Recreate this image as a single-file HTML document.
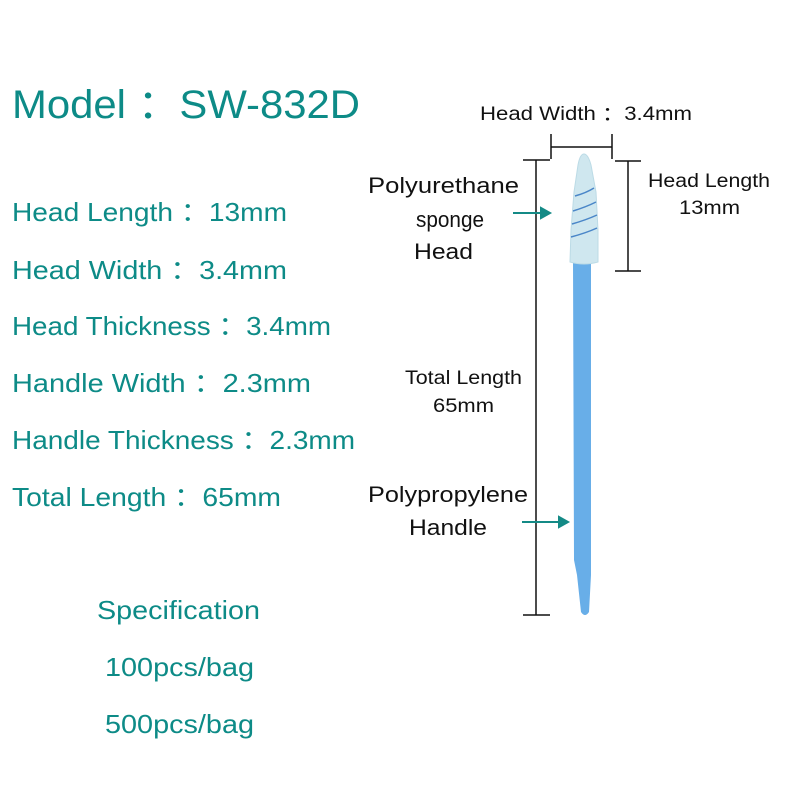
<!DOCTYPE html>
<html><head><style>body{margin:0;background:#fff}svg{display:block}</style></head><body>
<svg width="800" height="800" viewBox="0 0 800 800" xmlns="http://www.w3.org/2000/svg">
<g font-family="Liberation Sans, sans-serif" fill="#0d8b87">
<text x="12" y="118" font-size="40" textLength="348" lengthAdjust="spacingAndGlyphs">Model ：SW-832D</text>
<g font-size="26">
<text x="12" y="221" textLength="275" lengthAdjust="spacingAndGlyphs">Head Length ：13mm</text>
<text x="12" y="279" textLength="275" lengthAdjust="spacingAndGlyphs">Head Width ：3.4mm</text>
<text x="12" y="335" textLength="319" lengthAdjust="spacingAndGlyphs">Head Thickness ：3.4mm</text>
<text x="12" y="392" textLength="299" lengthAdjust="spacingAndGlyphs">Handle Width ：2.3mm</text>
<text x="12" y="449" textLength="343" lengthAdjust="spacingAndGlyphs">Handle Thickness ：2.3mm</text>
<text x="12" y="506" textLength="269" lengthAdjust="spacingAndGlyphs">Total Length ：65mm</text>
<text x="97" y="619" textLength="163" lengthAdjust="spacingAndGlyphs">Specification</text>
<text x="105" y="676" textLength="149" lengthAdjust="spacingAndGlyphs">100pcs/bag</text>
<text x="105" y="733" textLength="149" lengthAdjust="spacingAndGlyphs">500pcs/bag</text>
</g></g>
<g font-family="Liberation Sans, sans-serif" fill="#111">
<text x="480" y="120" font-size="19" textLength="212" lengthAdjust="spacingAndGlyphs">Head Width ：3.4mm</text>
<g font-size="22">
<text x="368" y="193" textLength="151" lengthAdjust="spacingAndGlyphs">Polyurethane</text>
<text x="416" y="227" textLength="68" lengthAdjust="spacingAndGlyphs">sponge</text>
<text x="414" y="259" textLength="59" lengthAdjust="spacingAndGlyphs">Head</text>
<text x="368" y="502" textLength="160" lengthAdjust="spacingAndGlyphs">Polypropylene</text>
<text x="409" y="535" textLength="78" lengthAdjust="spacingAndGlyphs">Handle</text>
</g>
<g font-size="19">
<text x="648" y="187" textLength="122" lengthAdjust="spacingAndGlyphs">Head Length</text>
<text x="679" y="214" textLength="61" lengthAdjust="spacingAndGlyphs">13mm</text>
<text x="405" y="384" textLength="117" lengthAdjust="spacingAndGlyphs">Total Length</text>
<text x="433" y="412" textLength="61" lengthAdjust="spacingAndGlyphs">65mm</text>
</g></g>
<g stroke="#111" stroke-width="1.5" fill="none">
<path d="M551 134V159M612 134V159M551 147H612"/>
<path d="M523 160H550M536 160V615M523 615H550"/>
<path d="M615 161H641M628 161V271M615 271H641"/>
</g>
<!-- handle -->
<path d="M573 260H591V575L589 612Q585 618 581 612L577 575L574 560Z" fill="#68aee8"/>
<!-- head -->
<path d="M584 154Q580 154 578 165L574 192L571 230L570 262Q584 266 598 262L598 230L596 192L591 165Q588 154 584 154Z" fill="#cfe7ef" stroke="#bcdbe6"/>
<g stroke="#4a86c8" stroke-width="1.5" fill="none">
<path d="M575 196Q586 193 594 188"/><path d="M573 211Q586 207 596 202"/><path d="M572 224Q586 220 597 215"/><path d="M571 237Q586 233 597 228"/>
</g>
<g stroke="#148a86" stroke-width="2" fill="#148a86">
<path d="M513 213H543"/><path d="M550 213L541 208V218Z"/>
<path d="M522 522H561"/><path d="M568 522L559 517V527Z"/>
</g>
</svg>
</body></html>
